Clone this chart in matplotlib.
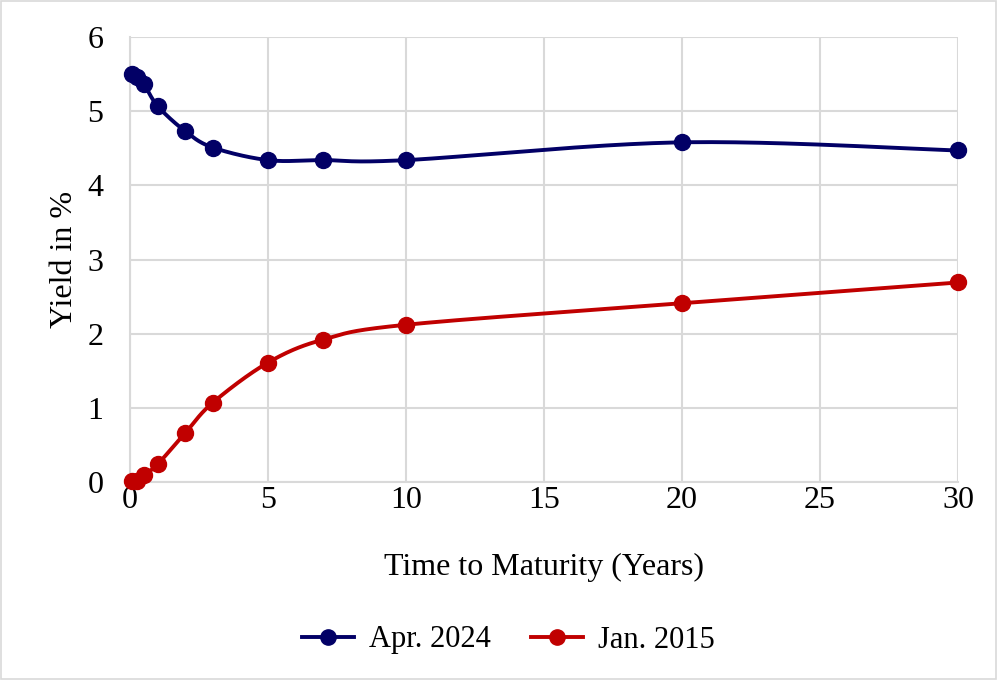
import numpy as np
import matplotlib
matplotlib.use("Agg")
import matplotlib.pyplot as plt
from matplotlib.lines import Line2D
from matplotlib.patches import Rectangle

plt.rcParams["font.family"] = ["Liberation Serif", "DejaVu Serif"]

# ── Data ──────────────────────────────────────────────────────────────────────
maturity = [1 / 12, 0.25, 0.5, 1, 2, 3, 5, 7, 10, 20, 30]
apr_2024 = [5.50, 5.46, 5.37, 5.07, 4.73, 4.51, 4.34, 4.34, 4.34, 4.58, 4.47]
jan_2015 = [0.01, 0.02, 0.09, 0.24, 0.66, 1.07, 1.61, 1.92, 2.12, 2.41, 2.69]

C_APR = "#020066"
C_JAN = "#C00000"
C_GRID = "#D9D9D9"
FS = 23


def smooth(x, y, n=40):
    # Excel-style smoothed line: Catmull-Rom bezier through the points
    p = np.column_stack([x, y]).astype(float)
    out = []
    for i in range(len(p) - 1):
        p0 = p[i - 1] if i > 0 else p[i]
        p3 = p[i + 2] if i + 2 < len(p) else p[i + 1]
        c1 = p[i] + (p[i + 1] - p0) / 6
        c2 = p[i + 1] - (p3 - p[i]) / 6
        t = np.linspace(0, 1, n)[:, None]
        seg = ((1 - t) ** 3 * p[i] + 3 * (1 - t) ** 2 * t * c1
               + 3 * (1 - t) * t ** 2 * c2 + t ** 3 * p[i + 1])
        out.append(seg if i == 0 else seg[1:])
    out = np.vstack(out)
    return out[:, 0], out[:, 1]


fig = plt.figure(figsize=(9.97, 6.8), dpi=100)
ax = fig.add_axes([130 / 997, 1 - 482 / 680, 828 / 997, 445 / 680])

for y, c in [(apr_2024, C_APR), (jan_2015, C_JAN)]:
    sx, sy = smooth(maturity, y)
    ax.plot(sx, sy, color=c, lw=2.8, zorder=3, solid_capstyle="round", clip_on=False)
    ax.plot(maturity, y, "o", color=c, ms=11.5, zorder=4, clip_on=False)

ax.set_xlim(0, 30)
ax.set_ylim(0, 6)
ax.set_xticks(range(0, 31, 5))
ax.set_yticks(range(0, 7))
ax.grid(True, color=C_GRID, lw=1.5, zorder=0)
for s in ax.spines.values():
    s.set_color(C_GRID)
    s.set_linewidth(1.5)
ax.spines["top"].set_visible(False)
ax.spines["right"].set_visible(False)
ax.tick_params(length=0, labelsize=FS)
ax.tick_params(axis="x", pad=3)
ax.tick_params(axis="y", pad=19)
ax.set_xlabel("Time to Maturity (Years)", fontsize=FS, labelpad=27)
ax.set_ylabel("Yield in %", fontsize=FS, labelpad=6)

handles = [Line2D([], [], color=C_APR, lw=2.8, marker="o", ms=11),
           Line2D([], [], color=C_JAN, lw=2.8, marker="o", ms=11)]
fig.legend(handles, ["Apr. 2024", "Jan. 2015"], loc="center",
           bbox_to_anchor=(0.51, 1 - 640 / 680), ncol=2, frameon=False,
           fontsize=22, handlelength=1.7, handletextpad=0.5, columnspacing=1.3)

fig.patches.append(Rectangle((0.001, 0.001), 0.998, 0.998, transform=fig.transFigure,
                             fill=False, edgecolor=C_GRID, lw=1.2))

fig.savefig("out.png", dpi=100)
